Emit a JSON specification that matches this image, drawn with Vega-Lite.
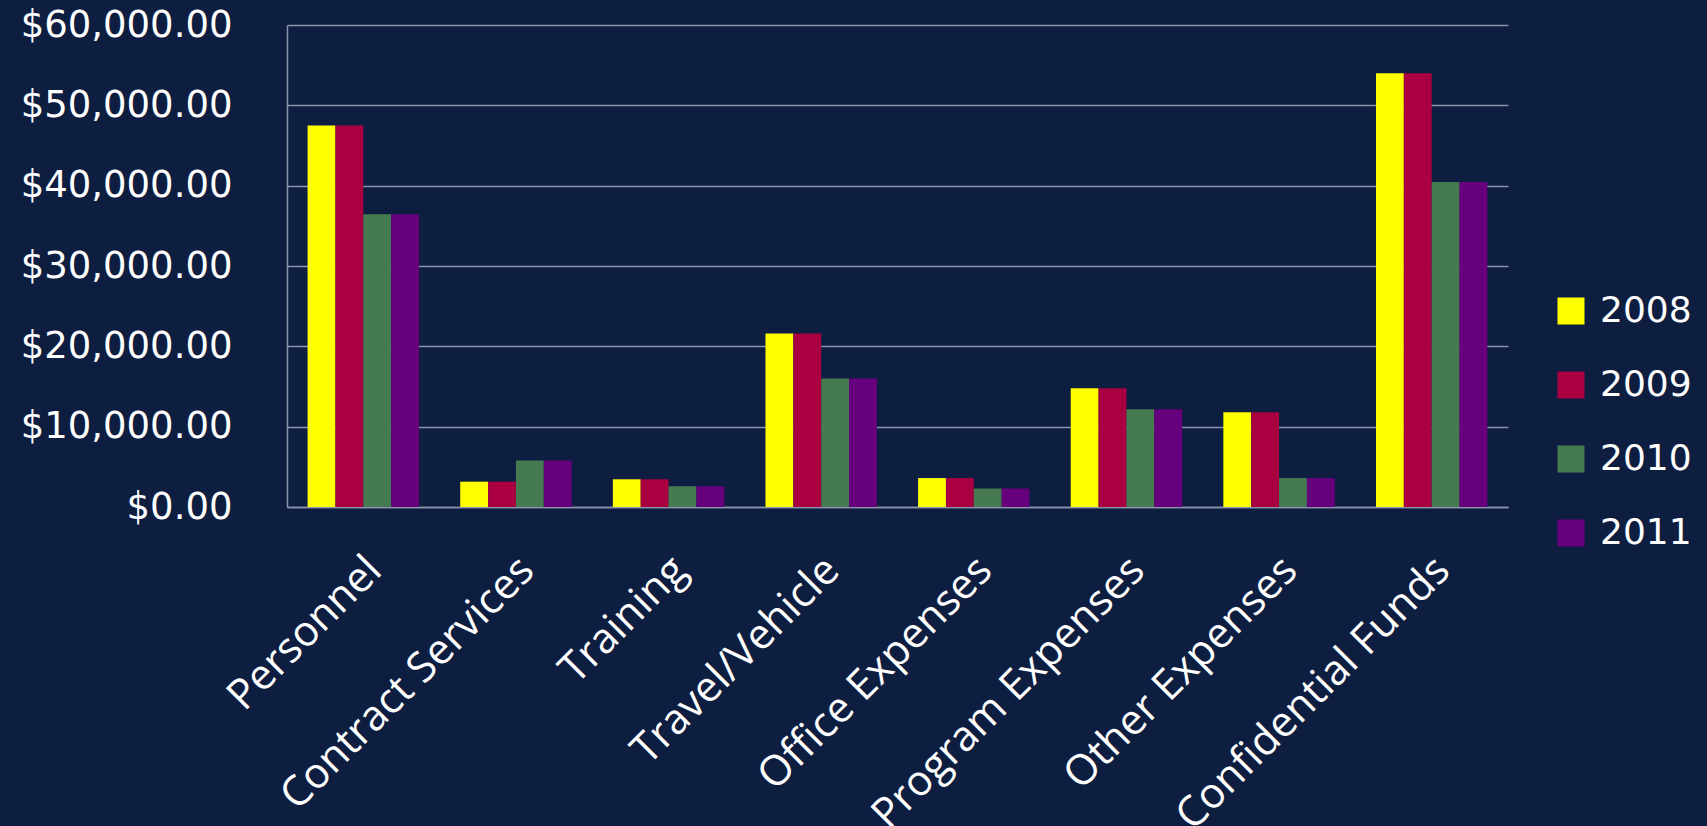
{
  "$schema": "https://vega.github.io/schema/vega-lite/v6.json",
  "autosize": {"type": "none"},
  "padding": {"left": 287, "top": 25, "right": 199, "bottom": 319},
  "width": 1221,
  "height": 482,
  "background": "#0e1e40",
  "config": {
    "view": {"stroke": null},
    "axis": {"gridColor": "#8c93ad", "gridWidth": 1.5, "domainColor": "#8c93ad", "domainWidth": 1.5, "ticks": false, "labelColor": "#ffffff"}
  },
  "data": {
    "values": [
      {"category": "Personnel", "year": "2008", "amount": 47500},
      {"category": "Personnel", "year": "2009", "amount": 47500},
      {"category": "Personnel", "year": "2010", "amount": 36450},
      {"category": "Personnel", "year": "2011", "amount": 36450},
      {"category": "Contract Services", "year": "2008", "amount": 3150},
      {"category": "Contract Services", "year": "2009", "amount": 3150},
      {"category": "Contract Services", "year": "2010", "amount": 5800},
      {"category": "Contract Services", "year": "2011", "amount": 5800},
      {"category": "Training", "year": "2008", "amount": 3450},
      {"category": "Training", "year": "2009", "amount": 3450},
      {"category": "Training", "year": "2010", "amount": 2580},
      {"category": "Training", "year": "2011", "amount": 2580},
      {"category": "Travel/Vehicle", "year": "2008", "amount": 21600},
      {"category": "Travel/Vehicle", "year": "2009", "amount": 21600},
      {"category": "Travel/Vehicle", "year": "2010", "amount": 16000},
      {"category": "Travel/Vehicle", "year": "2011", "amount": 16000},
      {"category": "Office Expenses", "year": "2008", "amount": 3600},
      {"category": "Office Expenses", "year": "2009", "amount": 3600},
      {"category": "Office Expenses", "year": "2010", "amount": 2300},
      {"category": "Office Expenses", "year": "2011", "amount": 2300},
      {"category": "Program Expenses", "year": "2008", "amount": 14780},
      {"category": "Program Expenses", "year": "2009", "amount": 14780},
      {"category": "Program Expenses", "year": "2010", "amount": 12160},
      {"category": "Program Expenses", "year": "2011", "amount": 12160},
      {"category": "Other Expenses", "year": "2008", "amount": 11800},
      {"category": "Other Expenses", "year": "2009", "amount": 11800},
      {"category": "Other Expenses", "year": "2010", "amount": 3600},
      {"category": "Other Expenses", "year": "2011", "amount": 3600},
      {"category": "Confidential Funds", "year": "2008", "amount": 54000},
      {"category": "Confidential Funds", "year": "2009", "amount": 54000},
      {"category": "Confidential Funds", "year": "2010", "amount": 40450},
      {"category": "Confidential Funds", "year": "2011", "amount": 40450}
    ]
  },
  "mark": {"type": "bar"},
  "encoding": {
    "x": {
      "field": "category", "type": "nominal", "sort": null,
      "scale": {"paddingInner": 0.27, "paddingOuter": 0.135},
      "axis": {"title": null, "labelAngle": -45, "labelFont": "Open Sans", "labelFontSize": 42, "labelPadding": 42, "labelOffset": -3, "labelLimit": 700, "grid": false, "domain": true}
    },
    "xOffset": {"field": "year", "type": "nominal", "scale": {"paddingInner": 0, "paddingOuter": 0}},
    "y": {
      "field": "amount", "type": "quantitative",
      "scale": {"domain": [0, 60000], "nice": false},
      "axis": {"title": null, "values": [0, 10000, 20000, 30000, 40000, 50000, 60000], "format": "$,.2f", "labelFont": "DejaVu Sans", "labelFontSize": 37, "labelPadding": 55, "labelLimit": 400, "grid": true, "domain": true}
    },
    "color": {
      "field": "year", "type": "nominal",
      "scale": {"domain": ["2008", "2009", "2010", "2011"], "range": ["#FFFF00", "#AA0042", "#467B52", "#66007D"]},
      "legend": {"title": null, "orient": "none", "legendX": 1266, "legendY": 268, "symbolType": "square", "symbolSize": 729, "symbolOpacity": 1, "symbolStrokeWidth": 0, "labelFont": "DejaVu Sans", "labelFontSize": 36, "labelColor": "#ffffff", "labelOffset": 11, "rowPadding": 38, "labelLimit": 200}
    }
  }
}
